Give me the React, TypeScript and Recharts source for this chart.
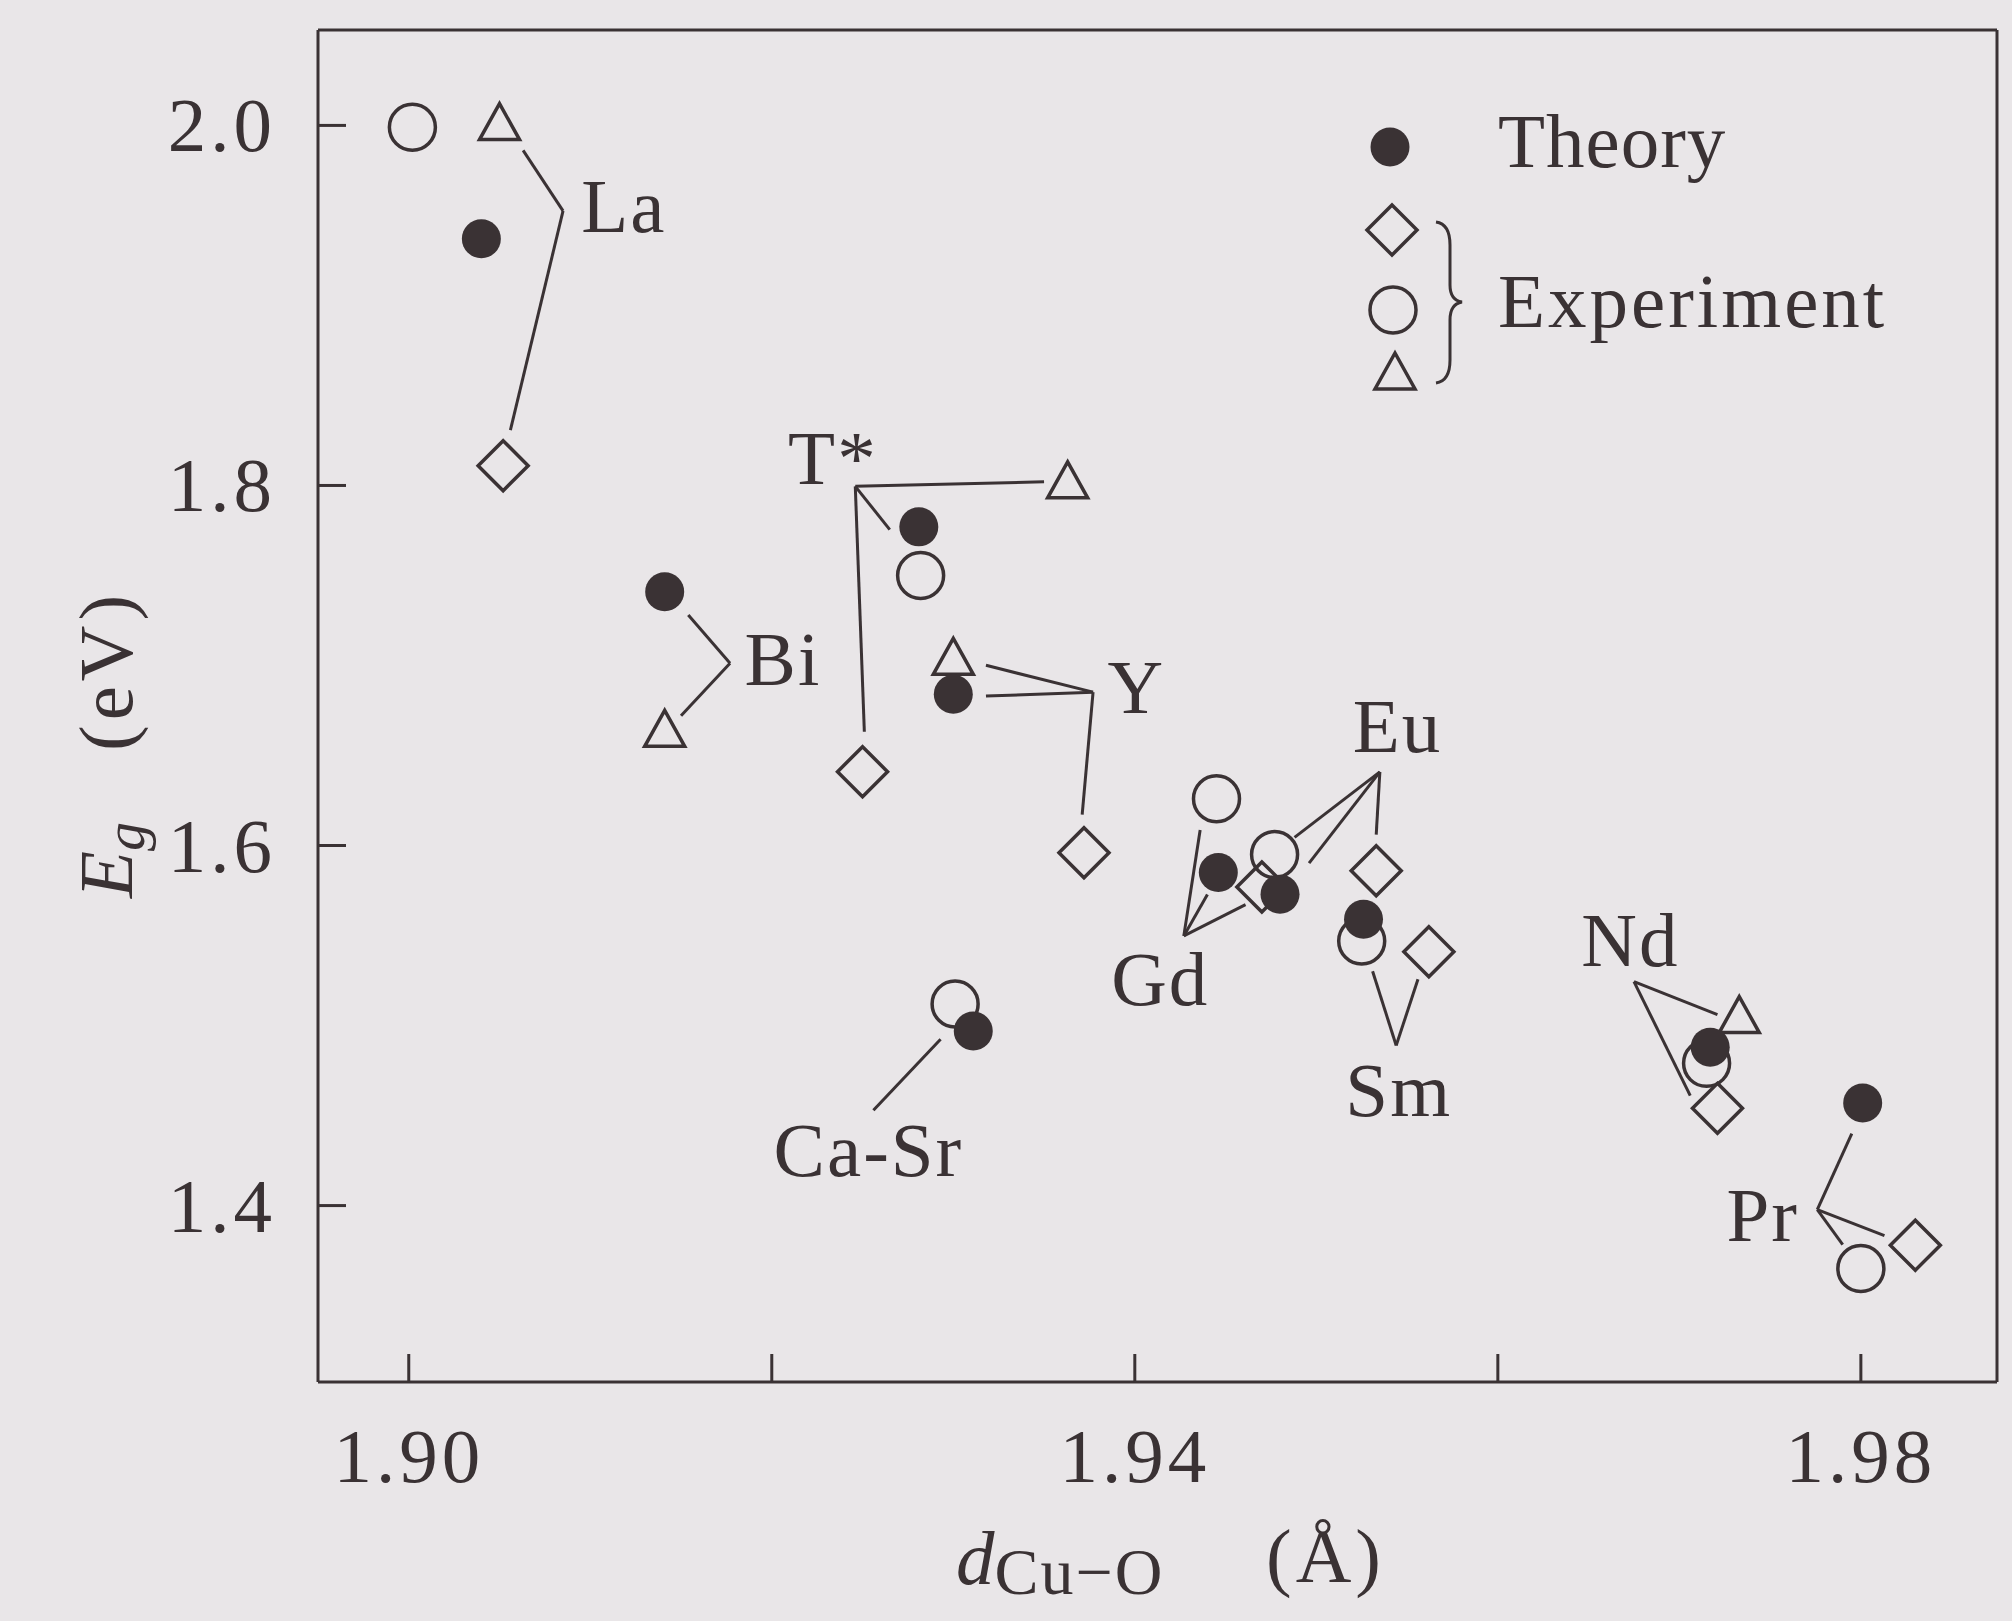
import {
  ScatterChart,
  Scatter,
  XAxis,
  YAxis,
  ReferenceLine,
  ReferenceDot,
  Legend,
} from 'recharts';

// compound families, in the order they carry labels on the plot
const elements = ['La', 'Bi', 'T*', 'Y', 'Gd', 'Eu', 'Sm', 'Nd', 'Pr', 'Ca-Sr'];

// Cu-O distance (Å) and gap (eV) per family, null where a family has no such point
const theoryD = [1.904, 1.9141, 1.9281, 1.930, 1.9446, 1.948, 1.9526, 1.9717, 1.9801, 1.9311];
const theoryEg = [1.937, 1.741, 1.777, 1.684, 1.585, 1.573, 1.559, 1.488, 1.457, 1.497];

const diamondD = [1.9052, null, 1.925, 1.9372, 1.947, 1.9533, 1.9562, 1.9721, 1.983, null];
const diamondEg = [1.811, null, 1.641, 1.596, 1.577, 1.586, 1.541, 1.454, 1.378, null];

const circleD = [1.9002, null, 1.9282, null, 1.9445, 1.9477, 1.9525, 1.9715, 1.980, 1.9301];
const circleEg = [1.999, null, 1.750, null, 1.626, 1.595, 1.547, 1.479, 1.365, 1.512];

const triangleD = [1.905, 1.9141, 1.9363, 1.930, null, null, null, 1.9733, null, null];
const triangleEg = [2.001, 1.664, 1.802, 1.704, null, null, null, 1.505, null, null];

// where each family name sits (start of text, baseline)
const labelD = [1.9095, 1.9185, 1.9209, 1.9385, 1.9387, 1.952, 1.9516, 1.9646, 1.9726, 1.9201];
const labelEg = [1.941, 1.6894, 1.8006, 1.6738, 1.5112, 1.6521, 1.4495, 1.5329, 1.3804, 1.4166];

// leader lines from the names to their points
const leaders: [number, number][][] = [
  [[1.9063, 1.9861], [1.9085, 1.9525], [1.9056, 1.8307]], // La
  [[1.9154, 1.7281], [1.9177, 1.7012], [1.915, 1.6721]], // Bi
  [[1.935, 1.802], [1.9246, 1.7995], [1.9251, 1.6632]], // T*
  [[1.9246, 1.7995], [1.9265, 1.7755]],
  [[1.9318, 1.7001], [1.9377, 1.6852], [1.9318, 1.683]], // Y
  [[1.9377, 1.6852], [1.9371, 1.6171]],
  [[1.9436, 1.6086], [1.9427, 1.5498], [1.9461, 1.5672]], // Gd
  [[1.9427, 1.5498], [1.944, 1.5728]],
  [[1.9488, 1.6045], [1.9535, 1.6409], [1.9496, 1.5902]], // Eu
  [[1.9535, 1.6409], [1.9533, 1.6061]],
  [[1.9531, 1.5302], [1.9544, 1.4889], [1.9556, 1.5257]], // Sm
  [[1.9721, 1.5061], [1.9675, 1.5244], [1.9706, 1.4611]], // Nd
  [[1.9795, 1.44], [1.9776, 1.3977], [1.9813, 1.3833]], // Pr
  [[1.9776, 1.3977], [1.979, 1.3783]],
  [[1.9293, 1.4924], [1.9256, 1.453]], // Ca-Sr
];

const xTicks = [1.9, 1.92, 1.94, 1.96, 1.98];
const xTickLabels = [1.9, 1.94, 1.98];
const yTicks = [1.4, 1.6, 1.8, 2.0];
const xDomain = [1.895, 1.9875];
const yDomain = [1.302, 2.053];

const INK = '#3a3234';
const PAPER = '#e9e6e8';
const FONT = '"Liberation Serif", "Times New Roman", serif';
const FS = 77;
const TICK = 28;

const pick = (xs: (number | null)[], ys: (number | null)[]) =>
  elements
    .map((el, i) => ({ el, d: xs[i], eg: ys[i] }))
    .filter((p) => p.d != null && p.eg != null);

const theory = pick(theoryD, theoryEg);
const diamonds = pick(diamondD, diamondEg);
const circles = pick(circleD, circleEg);
const triangles = pick(triangleD, triangleEg);

const segments = leaders.flatMap((line) =>
  line.slice(1).map((p, i) => [line[i], p] as [[number, number], [number, number]])
);

// marker shapes
const Dot = ({ cx, cy }: any) => <circle cx={cx} cy={cy} r={19.5} fill={INK} />;
const Ring = ({ cx, cy }: any) => (
  <circle cx={cx} cy={cy} r={23} fill="none" stroke={INK} strokeWidth={3.5} />
);
const Diamond = ({ cx, cy }: any) => (
  <polygon
    points={`${cx},${cy - 25} ${cx + 25},${cy} ${cx},${cy + 25} ${cx - 25},${cy}`}
    fill="none"
    stroke={INK}
    strokeWidth={3.5}
  />
);
const Triangle = ({ cx, cy }: any) => (
  <polygon
    points={`${cx},${cy - 20} ${cx + 20},${cy + 16} ${cx - 20},${cy + 16}`}
    fill="none"
    stroke={INK}
    strokeWidth={3.5}
  />
);

const txt = { fontFamily: FONT, fontSize: FS, fill: INK };

const XTick = ({ x, y, payload }: any) => {
  if (!xTickLabels.some((v) => Math.abs(v - payload.value) < 1e-6)) return null;
  return (
    <text x={x} y={y + TICK + 100} textAnchor="middle" letterSpacing={4} {...txt}>
      {payload.value.toFixed(2)}
    </text>
  );
};

const YTick = ({ x, y, payload }: any) => (
  <text x={x - TICK - 42} y={y + 26} textAnchor="end" letterSpacing={4} {...txt}>
    {payload.value.toFixed(1)}
  </text>
);

const LegendBox = () => (
  <svg width={660} height={340} style={{ overflow: 'visible' }}>
    <circle cx={50} cy={67} r={19.5} fill={INK} />
    <Diamond cx={52} cy={150} />
    <Ring cx={53} cy={230} />
    <Triangle cx={55} cy={293} />
    <path
      d="M 96 142 Q 110 144 110 165 L 110 205 Q 110 220 122 222 Q 110 224 110 240 L 110 280 Q 110 301 96 303"
      fill="none"
      stroke={INK}
      strokeWidth={3}
    />
    <text x={158} y={87} letterSpacing={1} {...txt}>Theory</text>
    <text x={158} y={247} letterSpacing={3} {...txt}>Experiment</text>
  </svg>
);

export default function App() {
  return (
    <div
      style={{
        position: 'absolute',
        left: 0,
        top: 0,
        width: 2012,
        height: 1621,
        background: PAPER,
      }}
    >
      <ScatterChart
        width={2012}
        height={1621}
        margin={{ top: 30, right: 15, left: 318, bottom: 239 }}
      >
        <XAxis
          xAxisId="b"
          dataKey="d"
          type="number"
          orientation="bottom"
          mirror
          domain={xDomain}
          allowDataOverflow
          ticks={xTicks}
          interval={0}
          tickSize={TICK}
          tickMargin={0}
          tick={<XTick />}
          axisLine={{ stroke: INK, strokeWidth: 3 }}
          tickLine={{ stroke: INK, strokeWidth: 3 }}
        />
        <XAxis
          xAxisId="t"
          type="number"
          orientation="top"
          mirror
          domain={xDomain}
          allowDataOverflow
          ticks={xTicks}
          interval={0}
          tickSize={TICK}
          tick={false}
          axisLine={{ stroke: INK, strokeWidth: 3 }}
          tickLine={{ stroke: INK, strokeWidth: 3 }}
        />
        <YAxis
          yAxisId="l"
          dataKey="eg"
          type="number"
          orientation="left"
          mirror
          domain={yDomain}
          allowDataOverflow
          ticks={yTicks}
          interval={0}
          tickSize={TICK}
          tickMargin={0}
          tick={<YTick />}
          axisLine={{ stroke: INK, strokeWidth: 3 }}
          tickLine={{ stroke: INK, strokeWidth: 3 }}
        />
        <YAxis
          yAxisId="r"
          type="number"
          orientation="right"
          mirror
          domain={yDomain}
          allowDataOverflow
          ticks={yTicks}
          interval={0}
          tickSize={TICK}
          tick={false}
          axisLine={{ stroke: INK, strokeWidth: 3 }}
          tickLine={{ stroke: INK, strokeWidth: 3 }}
        />

        {segments.map((s, i) => (
          <ReferenceLine
            key={`seg-${i}`}
            xAxisId="b"
            yAxisId="l"
            segment={[
              { x: s[0][0], y: s[0][1] },
              { x: s[1][0], y: s[1][1] },
            ]}
            stroke={INK}
            strokeWidth={3}
            ifOverflow="visible"
          />
        ))}

        {elements.map((name, i) => (
          <ReferenceDot
            key={`lab-${name}`}
            xAxisId="b"
            yAxisId="l"
            x={labelD[i]}
            y={labelEg[i]}
            r={0}
            ifOverflow="visible"
            shape={(p: any) => (
              <text x={p.cx} y={p.cy} letterSpacing={2} {...txt}>
                {name}
              </text>
            )}
          />
        ))}

        <Scatter name="Experiment" data={triangles} xAxisId="b" yAxisId="l" shape={<Triangle />} isAnimationActive={false} />
        <Scatter name="Experiment" data={diamonds} xAxisId="b" yAxisId="l" shape={<Diamond />} isAnimationActive={false} />
        <Scatter name="Experiment" data={circles} xAxisId="b" yAxisId="l" shape={<Ring />} isAnimationActive={false} />
        <Scatter name="Theory" data={theory} xAxisId="b" yAxisId="l" shape={<Dot />} isAnimationActive={false} />

        <Legend
          content={<LegendBox />}
          layout="horizontal"
          verticalAlign="middle"
          align="center"
          wrapperStyle={{ left: 1340, top: 80, width: 660, height: 340 }}
        />
      </ScatterChart>

      {/* axis titles */}
      <svg
        width={2012}
        height={1621}
        style={{ position: 'absolute', left: 0, top: 0, pointerEvents: 'none' }}
      >
        <text x={956} y={1584} {...txt}>
          <tspan fontStyle="italic">d</tspan>
          <tspan fontSize={66} dy={10} letterSpacing={2}>Cu−O</tspan>
          <tspan x={1266} dy={-12} letterSpacing={4}>(Å)</tspan>
        </text>
        <text x={132} y={898} transform="rotate(-90 132 898)" {...txt}>
          <tspan fontStyle="italic">E</tspan>
          <tspan fontSize={58} fontStyle="italic" dy={12}>g</tspan>
          <tspan x={279} dy={-12} letterSpacing={5}>(eV)</tspan>
        </text>
      </svg>
    </div>
  );
}
